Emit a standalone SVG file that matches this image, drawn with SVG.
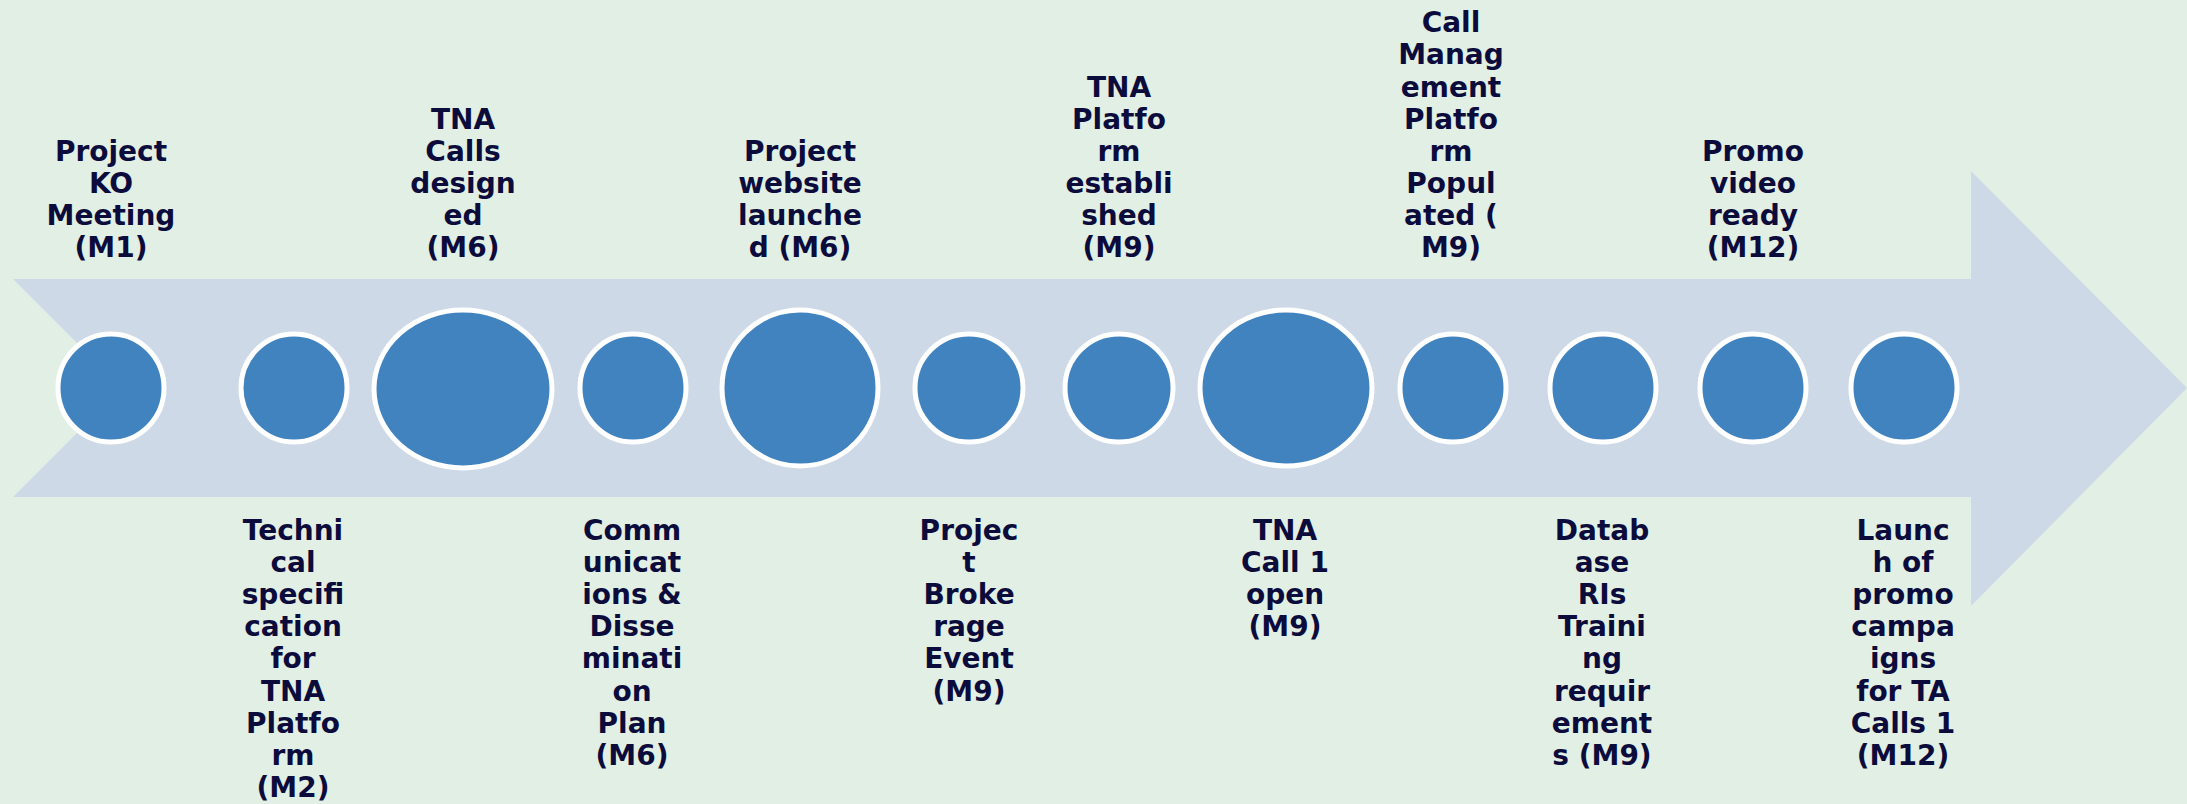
<svg xmlns="http://www.w3.org/2000/svg" width="2187" height="804" viewBox="0 0 2187 804">
<style>
.lbl{font-family:"DejaVu Sans","Liberation Sans",sans-serif;font-weight:bold;font-size:28px;fill:#0C0C3C;text-anchor:middle}
.dot{fill:#4083BF;stroke:#FFFFFF;stroke-width:5}
</style>
<rect x="0" y="0" width="2187" height="804" fill="#E2EFE4"/>
<g id="connectors">
<polygon points="13,279 1971,279 1971,171 2187,388 1971,606 1971,497 13,497 122,388" fill="#CDD9E6"/>
</g>
<g id="n1"><ellipse class="dot" cx="111" cy="388" rx="53" ry="54"/>
<text class="lbl" x="111"><tspan x="111" y="161">Project</tspan><tspan x="111" y="193">KO</tspan><tspan x="111" y="225">Meeting</tspan><tspan x="111" y="257">(M1)</tspan></text></g>
<g id="n2"><ellipse class="dot" cx="294" cy="388" rx="53" ry="54"/>
<text class="lbl"><tspan x="293" y="540">Techni</tspan><tspan x="293" y="572">cal</tspan><tspan x="293" y="604">specifi</tspan><tspan x="293" y="636">cation</tspan><tspan x="293" y="668">for</tspan><tspan x="293" y="701">TNA</tspan><tspan x="293" y="733">Platfo</tspan><tspan x="293" y="765">rm</tspan><tspan x="293" y="797">(M2)</tspan></text></g>
<g id="n3"><ellipse class="dot" cx="463" cy="389" rx="89" ry="79"/>
<text class="lbl"><tspan x="463" y="129">TNA</tspan><tspan x="463" y="161">Calls</tspan><tspan x="463" y="193">design</tspan><tspan x="463" y="225">ed</tspan><tspan x="463" y="257">(M6)</tspan></text></g>
<g id="n4"><ellipse class="dot" cx="633" cy="388" rx="53" ry="54"/>
<text class="lbl"><tspan x="632" y="540">Comm</tspan><tspan x="632" y="572">unicat</tspan><tspan x="632" y="604">ions &amp;</tspan><tspan x="632" y="636">Disse</tspan><tspan x="632" y="668">minati</tspan><tspan x="632" y="701">on</tspan><tspan x="632" y="733">Plan</tspan><tspan x="632" y="765">(M6)</tspan></text></g>
<g id="n5"><ellipse class="dot" cx="800" cy="388" rx="78" ry="78"/>
<text class="lbl"><tspan x="800" y="161">Project</tspan><tspan x="800" y="193">website</tspan><tspan x="800" y="225">launche</tspan><tspan x="800" y="257">d (M6)</tspan></text></g>
<g id="n6"><ellipse class="dot" cx="969" cy="388" rx="54" ry="54"/>
<text class="lbl"><tspan x="969" y="540">Projec</tspan><tspan x="969" y="572">t</tspan><tspan x="969" y="604">Broke</tspan><tspan x="969" y="636">rage</tspan><tspan x="969" y="668">Event</tspan><tspan x="969" y="701">(M9)</tspan></text></g>
<g id="n7"><ellipse class="dot" cx="1119" cy="388" rx="54" ry="54"/>
<text class="lbl"><tspan x="1119" y="97">TNA</tspan><tspan x="1119" y="129">Platfo</tspan><tspan x="1119" y="161">rm</tspan><tspan x="1119" y="193">establi</tspan><tspan x="1119" y="225">shed</tspan><tspan x="1119" y="257">(M9)</tspan></text></g>
<g id="n8"><ellipse class="dot" cx="1286" cy="388" rx="86" ry="78"/>
<text class="lbl"><tspan x="1285" y="540">TNA</tspan><tspan x="1285" y="572">Call 1</tspan><tspan x="1285" y="604">open</tspan><tspan x="1285" y="636">(M9)</tspan></text></g>
<g id="n9"><ellipse class="dot" cx="1453" cy="388" rx="53" ry="54"/>
<text class="lbl"><tspan x="1451" y="32">Call</tspan><tspan x="1451" y="64">Manag</tspan><tspan x="1451" y="97">ement</tspan><tspan x="1451" y="129">Platfo</tspan><tspan x="1451" y="161">rm</tspan><tspan x="1451" y="193">Popul</tspan><tspan x="1451" y="225">ated (</tspan><tspan x="1451" y="257">M9)</tspan></text></g>
<g id="n10"><ellipse class="dot" cx="1603" cy="388" rx="53" ry="54"/>
<text class="lbl"><tspan x="1602" y="540">Datab</tspan><tspan x="1602" y="572">ase</tspan><tspan x="1602" y="604">RIs</tspan><tspan x="1602" y="636">Traini</tspan><tspan x="1602" y="668">ng</tspan><tspan x="1602" y="701">requir</tspan><tspan x="1602" y="733">ement</tspan><tspan x="1602" y="765">s (M9)</tspan></text></g>
<g id="n11"><ellipse class="dot" cx="1753" cy="388" rx="53" ry="54"/>
<text class="lbl"><tspan x="1753" y="161">Promo</tspan><tspan x="1753" y="193">video</tspan><tspan x="1753" y="225">ready</tspan><tspan x="1753" y="257">(M12)</tspan></text></g>
<g id="n12"><ellipse class="dot" cx="1904" cy="388" rx="53" ry="54"/>
<text class="lbl"><tspan x="1903" y="540">Launc</tspan><tspan x="1903" y="572">h of</tspan><tspan x="1903" y="604">promo</tspan><tspan x="1903" y="636">campa</tspan><tspan x="1903" y="668">igns</tspan><tspan x="1903" y="701">for TA</tspan><tspan x="1903" y="733">Calls 1</tspan><tspan x="1903" y="765">(M12)</tspan></text></g>
</svg>
